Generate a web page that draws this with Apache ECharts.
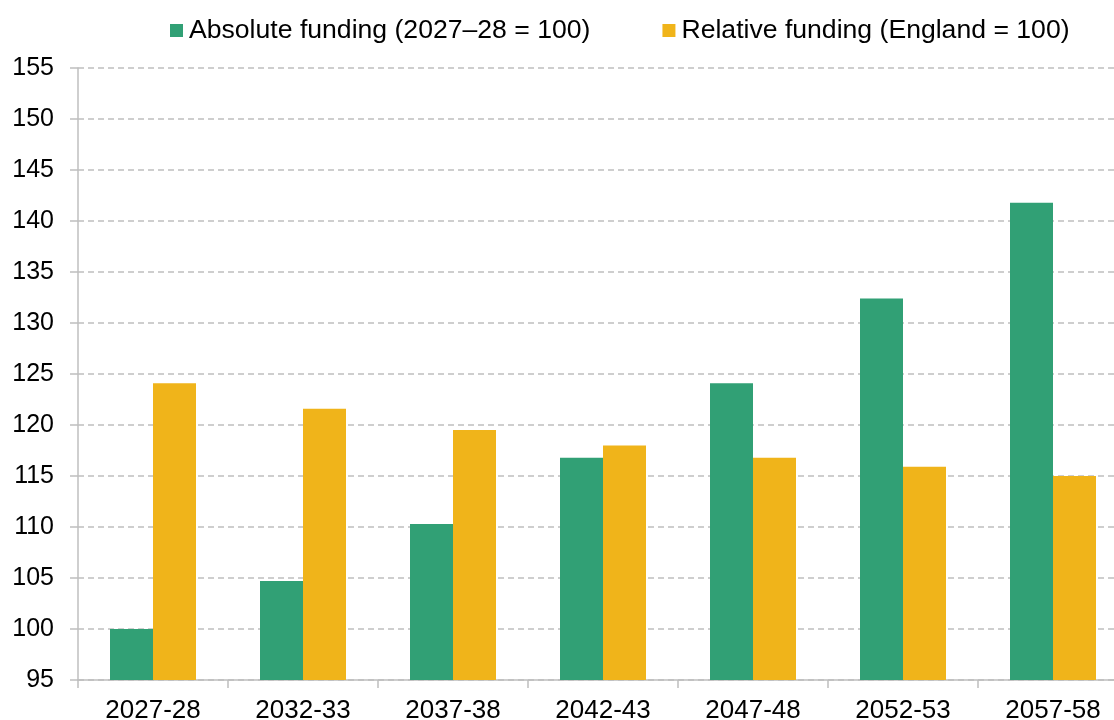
<!DOCTYPE html>
<html><head><meta charset="utf-8">
<script src="https://cdn.jsdelivr.net/npm/echarts@6/dist/echarts.min.js"></script>
<style>html,body{margin:0;padding:0;background:#fff}#c{width:1114px;height:720px}</style>
</head><body><div id="c"></div>
<script>
const categories = ['2027-28','2032-33','2037-38','2042-43','2047-48','2052-53','2057-58'];
const absoluteFunding = [100.0, 104.7, 110.3, 116.8, 124.1, 132.4, 141.8];
const relativeFunding = [124.1, 121.6, 119.5, 118.0, 116.8, 115.9, 115.0];
const seriesNames = ['Absolute funding (2027\u201328 = 100)', 'Relative funding (England = 100)'];
const yMin = 95, yMax = 155, yStep = 5;

const chart = echarts.init(document.getElementById('c'), null, {renderer:'canvas'});
const font = 'Liberation Sans, Arial, sans-serif';
chart.setOption({
  animation:false,
  textStyle:{fontFamily:font},
  legend:{
    top:12, left:165, itemWidth:13, itemHeight:13, itemGap:72,
    icon:'rect',
    textStyle:{fontSize:26.6, color:'#000', fontFamily:font, padding:[0,0,0,1]},
    data:seriesNames
  },
  grid:{left:78, top:68, width:1050, height:612, containLabel:false, outerBoundsMode:'none'},
  xAxis:{
    type:'category', data:categories, boundaryGap:true,
    axisLine:{lineStyle:{color:'#BFBFBF', width:1.5}},
    axisTick:{show:true, length:8, alignWithLabel:false, lineStyle:{color:'#BFBFBF', width:1.5}},
    axisLabel:{fontSize:26, color:'#000', margin:18, fontFamily:font}
  },
  yAxis:{
    type:'value', min:yMin, max:yMax, interval:yStep,
    axisLine:{show:true, lineStyle:{color:'#BFBFBF', width:1.5}},
    axisTick:{show:true, length:8, lineStyle:{color:'#BFBFBF', width:1.5}},
    axisLabel:{fontSize:25, color:'#000', margin:24, fontFamily:font},
    splitLine:{show:true, lineStyle:{color:'#BFBFBF', type:[6,4], width:1.5}}
  },
  series:[
    {name:seriesNames[0], type:'bar', data:absoluteFunding, barWidth:43, barGap:'0%', itemStyle:{color:'#31A075'}},
    {name:seriesNames[1], type:'bar', data:relativeFunding, barWidth:43, barGap:'0%', itemStyle:{color:'#F0B41A'}}
  ]
});
</script></body></html>
